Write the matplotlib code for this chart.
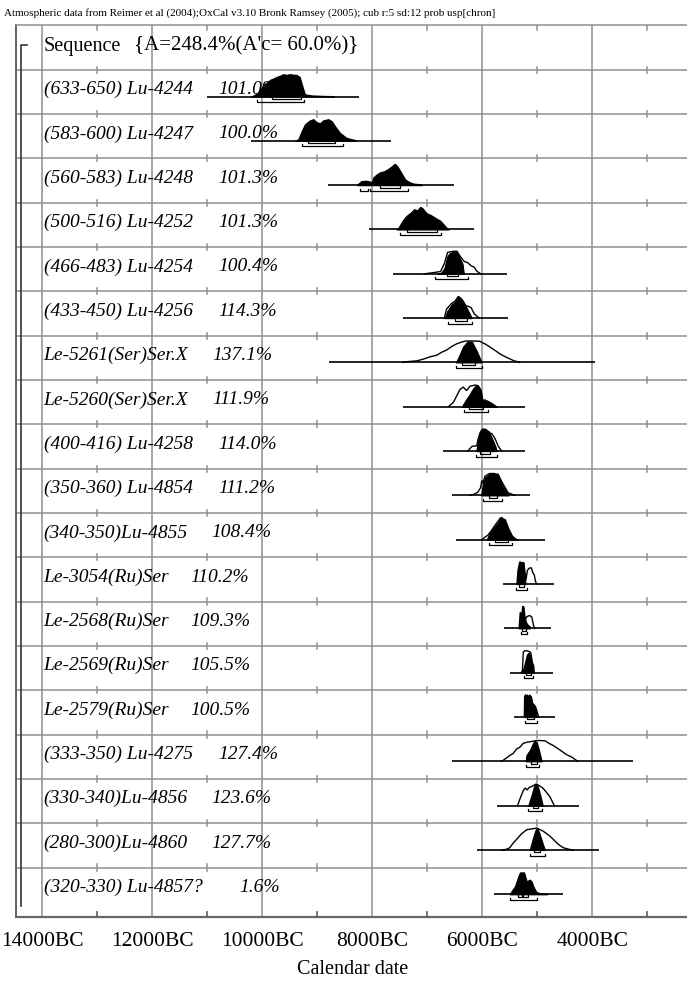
import matplotlib
matplotlib.use("Agg")
import matplotlib.pyplot as plt

# ---------------- data (years BC) ----------------
header = ("Atmospheric data from Reimer et al (2004);OxCal v3.10 Bronk Ramsey (2005); "
          "cub r:5 sd:12 prob usp[chron]")
sequence_name = "Sequence"
sequence_agreement = "{A=248.4%(A'c= 60.0%)}"

labels = ["(633-650) Lu-4244", "(583-600) Lu-4247", "(560-583) Lu-4248", "(500-516) Lu-4252",
          "(466-483) Lu-4254", "(433-450) Lu-4256", "Le-5261(Ser)Ser.X", "Le-5260(Ser)Ser.X",
          "(400-416) Lu-4258", "(350-360) Lu-4854", "(340-350)Lu-4855", "Le-3054(Ru)Ser",
          "Le-2568(Ru)Ser", "Le-2569(Ru)Ser", "Le-2579(Ru)Ser", "(333-350) Lu-4275",
          "(330-340)Lu-4856", "(280-300)Lu-4860", "(320-330) Lu-4857?"]
agreements = ["101.0%", "100.0%", "101.3%", "101.3%", "100.4%", "114.3%", "137.1%", "111.9%",
              "114.0%", "111.2%", "108.4%", "110.2%", "109.3%", "105.5%", "100.5%", "127.4%",
              "123.6%", "127.7%", "1.6%"]

# baseline extent of each distribution (start, end), years BC
baseline_ranges = [(11000, 8236), (10211, 7666), (8811, 6509), (8060, 6151), (7617, 5557),
                   (7448, 5538), (8782, 3952), (7448, 5224), (6709, 5224), (6557, 5133),
                   (6478, 4861), (5630, 4697), (5600, 4757), (5496, 4709), (5424, 4679),
                   (6545, 3255), (5739, 4237), (6091, 3873), (5782, 4527)]

# posterior (modelled) distributions: (year BC, relative probability)
posteriors = [
    [(10200, 0), (10160, 0.05), (10070, 0.17), (9980, 0.52), (9920, 0.62), (9860, 0.74), (9800, 0.8),
     (9740, 0.87), (9680, 0.92), (9620, 0.99), (9560, 0.96), (9500, 0.99), (9440, 0.97), (9380, 0.96),
     (9320, 0.87), (9270, 0.45), (9225, 0.1), (9100, 0.05), (8900, 0.03), (8710, 0.02), (8700, 0)],
    [(9405, 0), (9345, 0.08), (9284, 0.43), (9224, 0.74), (9133, 0.91), (9073, 0.96), (9012, 0.83),
     (8951, 0.78), (8891, 0.91), (8800, 0.96), (8738, 0.87), (8678, 0.65), (8587, 0.35), (8466, 0.13),
     (8315, 0.04), (8300, 0)],
    [(8280, 0), (8250, 0.08), (8200, 0.18), (8120, 0.2), (8050, 0.17), (8010, 0.12), (7980, 0.35),
     (7930, 0.46), (7860, 0.57), (7780, 0.62), (7700, 0.74), (7640, 0.85), (7590, 0.95), (7540, 0.82),
     (7490, 0.62), (7450, 0.45), (7400, 0.25), (7320, 0.13), (7250, 0.07), (7110, 0.04), (7100, 0)],
    [(7560, 0), (7520, 0.1), (7460, 0.35), (7400, 0.55), (7360, 0.64), (7300, 0.75), (7240, 0.9),
     (7180, 0.85), (7130, 1.0), (7090, 0.95), (7040, 0.8), (7000, 0.7), (6950, 0.66), (6890, 0.57),
     (6830, 0.48), (6770, 0.4), (6700, 0.22), (6650, 0.08), (6610, 0)],
    [(6820, 0), (6750, 0.05), (6690, 0.25), (6640, 0.75), (6600, 0.9), (6540, 0.97), (6470, 0.97),
     (6420, 0.75), (6360, 0.45), (6335, 0)],
    [(6680, 0), (6640, 0.3), (6560, 0.6), (6497, 0.72), (6437, 0.96), (6400, 0.9), (6357, 0.78),
     (6284, 0.45), (6224, 0.17), (6193, 0)],
    [(6480, 0), (6420, 0.3), (6350, 0.7), (6270, 0.93), (6190, 0.93), (6100, 0.5), (6010, 0)],
    [(6375, 0), (6300, 0.3), (6230, 0.55), (6170, 0.8), (6120, 0.94), (6080, 0.94), (6030, 0.75),
     (6000, 0.35), (5985, 0.28), (5950, 0.27), (5900, 0.22), (5840, 0.15), (5780, 0.05), (5740, 0)],
    [(6110, 0), (6080, 0.45), (6040, 0.8), (6000, 0.97), (5940, 0.97), (5880, 0.87), (5820, 0.55),
     (5760, 0.2), (5740, 0)],
    [(6020, 0), (5990, 0.52), (5950, 0.8), (5870, 0.95), (5800, 0.97), (5720, 0.97), (5680, 0.74),
     (5610, 0.35), (5530, 0.04), (5520, 0)],
    [(5920, 0), (5870, 0.3), (5780, 0.57), (5720, 0.75), (5670, 0.97), (5640, 0.97), (5610, 0.88),
     (5590, 0.9), (5530, 0.52), (5460, 0.17), (5400, 0.04), (5360, 0)],
    [(5370, 0), (5350, 0.6), (5320, 0.97), (5300, 0.97), (5290, 0.7), (5270, 0.95), (5250, 0.95),
     (5235, 0.6), (5220, 0.2), (5215, 0)],
    [(5330, 0), (5310, 0.6), (5290, 0.4), (5265, 0.97), (5250, 0.95), (5230, 0.5), (5200, 0.25),
     (5170, 0.15), (5140, 0.1), (5130, 0)],
    [(5290, 0), (5250, 0.2), (5220, 0.5), (5190, 0.8), (5150, 0.9), (5110, 0.55), (5080, 0.15),
     (5070, 0)],
    [(5235, 0), (5230, 0.9), (5215, 0.98), (5195, 0.85), (5180, 0.97), (5160, 0.85), (5140, 0.97),
     (5115, 0.9), (5090, 0.6), (5060, 0.5), (5030, 0.3), (5015, 0)],
    [(5210, 0), (5200, 0.25), (5170, 0.38), (5133, 0.5), (5090, 0.75), (5050, 0.92), (5010, 0.85),
     (4970, 0.5), (4940, 0.2), (4920, 0)],
    [(5165, 0), (5140, 0.2), (5100, 0.5), (5060, 0.85), (5020, 0.96), (4990, 0.85), (4950, 0.5),
     (4920, 0.2), (4900, 0)],
    [(5140, 0), (5110, 0.25), (5070, 0.6), (5030, 0.9), (5000, 0.97), (4970, 0.8), (4930, 0.5),
     (4890, 0.2), (4860, 0)],
    [(5500, 0), (5467, 0.14), (5406, 0.36), (5345, 0.8), (5315, 0.97), (5240, 0.97), (5215, 0.75),
     (5194, 0.58), (5160, 0.62), (5133, 0.65), (5100, 0.55), (5073, 0.36), (5040, 0.2), (5012, 0.1),
     (4950, 0.05), (4830, 0.03), (4820, 0)],
]

# prior (unmodelled) distributions, None where it coincides with the posterior
priors = [
    None, None, None, None,
    [(7050, 0), (6900, 0.05), (6760, 0.1), (6690, 0.45), (6630, 0.95), (6520, 1.0), (6460, 1.0),
     (6410, 0.8), (6330, 0.55), (6270, 0.5), (6200, 0.35), (6150, 0.3), (6100, 0.12), (6030, 0)],
    [(6690, 0), (6650, 0.4), (6560, 0.65), (6497, 0.75), (6437, 0.96), (6380, 0.85), (6300, 0.55),
     (6250, 0.52), (6200, 0.45), (6150, 0.2), (6055, 0)],
    [(7450, 0), (7440, 0.02), (7300, 0.05), (7190, 0.07), (7070, 0.15), (6950, 0.25), (6830, 0.32),
     (6740, 0.45), (6650, 0.55), (6560, 0.7), (6470, 0.82), (6380, 0.9), (6300, 0.95), (6200, 0.95),
     (6050, 0.94), (5950, 0.82), (5860, 0.68), (5760, 0.52), (5680, 0.38), (5580, 0.25), (5500, 0.16),
     (5420, 0.07), (5350, 0.03), (5320, 0)],
    [(6620, 0), (6527, 0.19), (6466, 0.48), (6406, 0.77), (6346, 0.87), (6285, 0.72), (6224, 0.91),
     (6134, 0.96), (6080, 0.94), (6030, 0.75), (6000, 0.35), (5985, 0.28), (5950, 0.3), (5880, 0.22),
     (5800, 0.1), (5740, 0)],
    [(6260, 0), (6230, 0.1), (6180, 0.22), (6130, 0.22), (6100, 0.25), (6080, 0.5), (6040, 0.82),
     (6000, 0.97), (5940, 0.97), (5890, 0.8), (5830, 0.78), (5770, 0.56), (5710, 0.22), (5650, 0)],
    [(6230, 0), (6150, 0.05), (6080, 0.15), (6030, 0.35), (6010, 0.65), (5990, 0.55), (5950, 0.85),
     (5870, 0.97), (5780, 0.97), (5700, 0.85), (5610, 0.45), (5530, 0.12), (5410, 0)],
    [(6010, 0), (5960, 0.1), (5900, 0.2), (5850, 0.35), (5780, 0.6), (5720, 0.8), (5670, 0.97),
     (5640, 0.97), (5610, 0.88), (5590, 0.9), (5530, 0.52), (5460, 0.17), (5400, 0.04), (5360, 0)],
    [(5370, 0), (5350, 0.6), (5320, 0.97), (5300, 0.97), (5290, 0.7), (5270, 0.95), (5250, 0.95),
     (5235, 0.6), (5206, 0.2), (5180, 0.6), (5150, 0.7), (5110, 0.72), (5080, 0.5), (5055, 0.4),
     (5030, 0.1), (5010, 0)],
    [(5330, 0), (5310, 0.7), (5290, 0.45), (5265, 0.97), (5250, 0.95), (5230, 0.35), (5190, 0.52),
     (5140, 0.57), (5100, 0.5), (5070, 0.15), (5050, 0)],
    [(5290, 0), (5270, 0.1), (5255, 0.92), (5230, 0.97), (5180, 0.97), (5120, 0.9), (5090, 0.45),
     (5065, 0.3), (5055, 0)],
    [(5235, 0), (5230, 0.9), (5215, 0.98), (5195, 0.85), (5180, 0.97), (5160, 0.85), (5140, 0.97),
     (5115, 0.9), (5090, 0.6), (5060, 0.55), (5030, 0.45), (5000, 0.2), (4975, 0)],
    [(5650, 0), (5600, 0.08), (5500, 0.26), (5440, 0.35), (5376, 0.55), (5320, 0.62), (5255, 0.8),
     (5180, 0.85), (5103, 0.88), (5012, 0.92), (4940, 0.92), (4861, 0.91), (4790, 0.8), (4709, 0.7),
     (4630, 0.57), (4557, 0.45), (4470, 0.3), (4375, 0.19), (4300, 0.06), (4255, 0)],
    [(5360, 0), (5315, 0.3), (5255, 0.67), (5220, 0.78), (5180, 0.7), (5150, 0.8), (5100, 0.85),
     (5020, 0.96), (4960, 0.88), (4900, 0.78), (4861, 0.67), (4820, 0.55), (4770, 0.39), (4720, 0.15),
     (4690, 0)],
    [(5650, 0), (5560, 0.03), (5500, 0.1), (5440, 0.3), (5376, 0.47), (5285, 0.72), (5190, 0.9),
     (5103, 0.93), (5010, 0.97), (4950, 0.9), (4891, 0.83), (4830, 0.72), (4770, 0.61), (4700, 0.45),
     (4649, 0.32), (4590, 0.2), (4527, 0.1), (4440, 0.04), (4345, 0)],
    None,
]

# highest posterior density ranges (68.2% and 95.4%)
ranges68 = [[(9830, 9290)], [(9170, 8680)], [(7860, 7500)], [(7364, 6830)], [(6648, 6437)],
            [(6497, 6284)], [(6375, 6134)], [(6236, 5982)], [(6042, 5860)], [(5873, 5739)],
            [(5770, 5527)], [(5327, 5242)], [(5270, 5210)], [(5200, 5110)], [(5180, 5060)],
            [(5120, 5010)], [(5080, 4990)], [(5060, 4950)], [(5345, 5285), (5255, 5170)]]
ranges95 = [[(10100, 9240)], [(9285, 8540)], [(8224, 8073), (8042, 7346)], [(7497, 6757)],
            [(6860, 6266)], [(6618, 6193)], [(6478, 6012)], [(6333, 5891)], [(6115, 5739)],
            [(5982, 5648)], [(5873, 5466)], [(5388, 5194)], [(5297, 5182)], [(5242, 5073)],
            [(5224, 5010)], [(5200, 4970)], [(5164, 4921)], [(5133, 4861)], [(5497, 5012)]]

major_ticks = [14000, 12000, 10000, 8000, 6000, 4000]
minor_ticks = [13000, 11000, 9000, 7000, 5000, 3000]
xlabel = "Calendar date"

# ---------------- layout ----------------
W, H = 687, 986
fig = plt.figure(figsize=(W / 100, H / 100), dpi=100)
ax_left_px, ax_top_px, ax_bot_px = 16, 25.4, 916.7
ax = fig.add_axes([ax_left_px / W, 1 - ax_bot_px / H, (W - ax_left_px) / W, (ax_bot_px - ax_top_px) / H])

PX_PER_YEAR = 110.0 / 2000.0
def px_to_x(px):
    return -(10000 + (262.3 - px) / PX_PER_YEAR)

nrows = len(labels) + 1
ybottom = nrows + 0.11
ax.set_xlim(px_to_x(ax_left_px), px_to_x(W))
ax.set_ylim(ybottom, 0)

GRID = "#8f8f8f"
for yr in major_ticks:
    ax.axvline(-yr, color=GRID, lw=1.1, zorder=1)
for r in range(1, nrows):
    ax.axhline(r, color=GRID, lw=1.1, zorder=1)
# small ticks at odd millennia
for yr in minor_ticks:
    for r in range(1, nrows):
        ax.plot([-yr, -yr], [r - 0.07, r + 0.07], color=GRID, lw=1.1, zorder=1)
    ax.plot([-yr, -yr], [0, 0.11], color=GRID, lw=1.1, zorder=1)
    ax.plot([-yr, -yr], [ybottom - 0.11, ybottom], color="#666666", lw=1.3, zorder=1)

ax.spines["right"].set_visible(False)
ax.spines["left"].set_color("#555555")
ax.spines["left"].set_linewidth(1.3)
ax.spines["top"].set_color(GRID)
ax.spines["top"].set_linewidth(1.1)
ax.spines["bottom"].set_color("#666666")
ax.spines["bottom"].set_linewidth(1.6)

ax.set_yticks([])
ax.set_xticks([-y for y in major_ticks])
ax.set_xticklabels([f"{y}BC" for y in major_ticks], family="Liberation Serif", fontsize=15.5)
ax.tick_params(axis="x", length=0, pad=11)

# sequence bracket
bx = px_to_x(20.5)
ax.plot([px_to_x(27), bx, bx], [0.44, 0.44, nrows - 0.13], color="#333333", lw=1.2, zorder=3)

SERIF = "Liberation Serif"
label_x = px_to_x(43.5)
ax.text(label_x, 0.47, sequence_name, family=SERIF, fontsize=14.5, va="center", ha="left", zorder=5)
ax.text(px_to_x(134), 0.47, sequence_agreement, family=SERIF, fontsize=15, va="center", ha="left", zorder=5)

pct_px = [218, 218, 218, 218, 218, 218, 212.7, 212.7, 218.3, 218.3, 211.7, 190.7, 190.7, 190.7,
          190.7, 218.3, 211.7, 211.7, 239.3]

BASE = 0.605
HSCALE = 0.51
for i, (lab, agr) in enumerate(zip(labels, agreements)):
    r = i + 1
    base = r + BASE
    ax.text(label_x, r + 0.45, lab, family=SERIF, style="italic", fontsize=14,
            va="center", ha="left", zorder=5)
    ax.text(px_to_x(pct_px[i]), r + 0.45, agr, family=SERIF, style="italic", fontsize=14,
            va="center", ha="left", zorder=5)
    # baseline
    a, b = baseline_ranges[i]
    ax.plot([-a, -b], [base, base], color="black", lw=1.2, zorder=3, solid_capstyle="butt")
    # prior outline
    if priors[i] is not None:
        xs = [-p[0] for p in priors[i]]
        ys = [base - p[1] * HSCALE for p in priors[i]]
        ax.plot(xs, ys, color="black", lw=1.0, zorder=3)
    # posterior fill
    xs = [-p[0] for p in posteriors[i]]
    ys = [base - p[1] * HSCALE for p in posteriors[i]]
    ax.fill_between(xs, ys, base, color="black", lw=0.8, zorder=4)
    # ranges
    for rngs, off in ((ranges68[i], 0.055), (ranges95[i], 0.125)):
        for (s, e) in rngs:
            yy = base + off
            ax.plot([-s, -s, -e, -e], [yy - 0.045, yy, yy, yy - 0.045], color="black", lw=0.9, zorder=3)

fig.text(4 / W, 1 - 13 / H, header, family=SERIF, fontsize=8, va="center", ha="left")
fig.text(353 / W, 1 - 970 / H, xlabel, family=SERIF, fontsize=14.5, va="center", ha="center")

fig.savefig("out.png", dpi=100)
